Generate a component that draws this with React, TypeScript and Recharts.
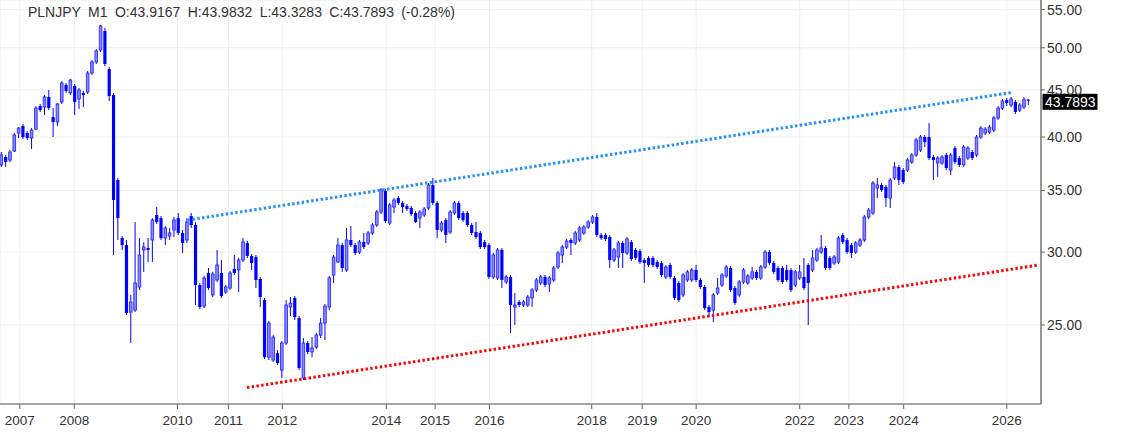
import React from 'react';
import { ComposedChart, Bar, XAxis, YAxis, CartesianGrid, ReferenceLine } from 'recharts';

const OPEN = [
37.30,38.05,37.76,38.62,40.40,41.12,40.40,39.90,40.80,43.22,
43.11,44.21,42.05,41.53,43.66,45.55,44.66,45.44,43.99,44.66,
44.77,46.94,48.25,49.72,52.14,47.41,44.43,35.92,31.07,30.53,
25.82,25.95,27.49,30.16,30.31,30.92,32.91,32.66,31.07,31.23,
31.70,32.66,31.47,30.92,32.83,32.10,27.63,26.21,28.47,26.95,
27.98,28.47,27.15,27.42,28.76,28.69,29.41,30.69,29.71,29.63,
28.05,26.61,23.07,22.90,23.30,22.34,23.90,26.15,26.75,25.44,
21.90,23.90,23.37,23.66,24.38,25.12,26.15,28.33,29.26,30.53,
28.69,30.92,30.53,30.00,30.76,30.69,31.47,32.10,33.16,34.95,
32.26,33.58,34.34,33.92,33.67,33.50,33.08,32.66,32.91,33.50,
35.48,33.92,31.70,32.50,31.54,33.08,33.92,33.08,33.08,32.10,
31.54,31.47,30.76,30.53,28.19,28.12,30.16,27.84,28.19,26.15,
26.48,26.28,26.28,26.75,27.29,27.77,28.19,27.70,27.98,28.90,
29.78,30.38,30.92,30.69,30.92,31.47,31.94,32.34,32.75,31.31,
31.31,31.15,29.41,29.63,30.69,29.93,30.76,30.16,30.08,29.41,
29.56,29.56,29.26,29.19,28.19,29.05,28.12,27.77,26.95,27.98,
27.98,28.69,27.98,27.49,26.15,25.95,27.08,27.63,28.26,28.83,
27.42,26.95,27.84,27.77,28.12,28.55,28.12,28.90,30.00,29.19,
28.83,28.83,28.69,28.69,27.63,28.12,28.19,29.05,28.69,29.41,
30.00,30.31,29.56,29.19,29.26,31.31,30.92,30.53,30.00,30.53,
30.92,32.75,33.08,35.21,35.48,35.30,34.34,36.10,37.11,36.83,
36.83,37.57,38.24,38.72,40.00,40.00,38.05,37.48,37.48,38.24,
36.83,38.91,37.95,37.30,37.95,38.53,38.24,40.00,40.40,40.50,
40.70,41.95,43.00,43.88,43.33,43.66,42.79,43.11,43.9167
];

const HIGH = [
38.53,38.24,38.72,40.40,41.01,41.32,40.60,40.90,43.22,43.44,
44.43,44.99,43.00,43.55,46.00,45.78,46.24,45.67,45.22,44.88,
47.17,48.49,49.85,52.93,52.53,47.65,44.66,36.10,31.23,30.92,
26.95,32.34,31.07,30.76,31.07,32.66,33.58,32.83,32.02,31.86,
32.75,33.08,31.70,32.66,33.08,32.34,27.77,28.26,28.83,28.55,
30.16,29.41,27.63,28.62,29.78,29.56,31.07,30.84,29.86,29.78,
28.19,26.75,25.25,24.38,23.48,24.02,26.61,26.81,26.88,25.57,
24.20,24.02,24.26,24.51,25.44,26.35,28.26,29.78,31.07,30.69,
31.86,32.02,30.69,30.92,31.47,31.62,32.26,33.33,35.21,35.13,
33.92,34.34,34.51,34.08,33.84,33.67,33.24,33.33,33.58,35.65,
36.10,34.08,32.42,32.66,33.33,34.08,34.08,33.24,33.24,32.26,
32.34,31.62,30.92,30.69,29.93,30.31,30.31,28.33,28.33,27.08,
26.61,26.61,26.95,27.42,28.12,28.33,28.33,28.26,28.98,30.08,
30.53,31.00,31.07,31.62,32.02,32.10,32.50,32.91,33.08,31.47,
31.47,31.31,30.31,30.84,30.84,31.15,30.92,30.31,30.23,29.56,
29.71,29.71,29.41,29.34,29.05,29.19,28.26,27.91,28.47,28.69,
28.83,29.05,28.12,27.63,26.28,27.08,28.12,28.47,29.05,28.98,
27.56,27.98,28.83,28.40,28.90,28.69,29.05,30.16,30.16,29.34,
28.98,28.98,29.05,28.83,28.69,29.05,29.56,29.19,30.16,30.31,
31.31,30.46,29.71,29.78,31.23,31.47,31.07,30.69,30.84,31.07,
32.91,33.50,35.83,36.10,35.65,35.48,36.10,37.57,37.30,37.02,
37.95,38.43,39.90,40.20,40.20,41.43,38.24,38.14,38.24,38.43,
38.43,39.11,38.14,39.21,39.11,38.72,40.20,41.12,41.01,41.22,
42.16,43.22,43.99,44.10,44.21,43.88,43.55,44.21,43.9832
];

const LOW = [
37.11,37.11,37.57,38.53,39.90,39.80,39.70,38.82,40.70,42.58,
42.26,42.79,40.00,41.12,43.44,44.66,44.43,42.26,42.90,43.11,
44.54,46.70,48.01,49.47,47.77,43.77,29.78,30.92,30.16,25.63,
23.90,25.82,27.29,28.55,29.26,29.26,32.18,30.92,30.53,30.92,
31.15,31.31,29.93,30.69,31.86,26.28,26.02,26.08,27.29,26.81,
27.84,26.75,27.02,27.29,28.33,27.15,29.26,29.56,28.69,27.42,
26.15,22.96,22.90,22.79,22.62,21.90,23.78,25.57,25.31,22.34,
21.79,23.25,23.07,23.54,24.20,24.08,25.95,27.77,29.19,28.55,
28.55,30.38,29.78,29.86,30.23,30.53,31.31,31.94,32.99,32.26,
32.10,33.08,33.75,33.08,33.24,32.83,32.26,31.86,32.75,33.33,
33.75,31.07,31.54,30.69,31.39,32.91,32.50,32.34,31.94,31.31,
31.00,30.23,30.23,28.05,28.05,27.98,27.42,27.70,24.51,25.00,
26.15,26.15,26.15,26.15,27.15,27.63,27.49,27.15,27.84,28.76,
29.19,30.23,29.78,30.53,30.76,31.31,31.78,32.18,31.15,30.92,
30.84,28.83,29.26,28.83,28.83,29.78,29.34,29.41,29.12,27.77,
28.90,28.90,28.76,28.19,28.05,28.05,26.61,26.48,26.81,27.84,
27.84,27.84,27.35,25.95,25.50,25.19,26.95,27.49,28.12,27.15,
26.28,26.81,27.70,27.63,27.98,27.98,27.98,28.76,29.05,28.40,
27.84,27.70,27.84,27.15,27.49,27.98,27.29,25.00,28.55,29.26,
29.86,28.69,28.69,29.05,29.12,30.61,29.86,29.56,29.86,30.38,
30.76,32.58,32.91,34.34,34.86,33.58,33.50,35.92,35.48,35.56,
36.65,37.39,38.05,38.53,39.01,37.76,35.92,36.20,37.30,36.83,
36.38,37.39,37.11,37.11,37.76,37.76,38.05,39.80,40.20,40.30,
40.50,41.74,42.79,43.22,43.11,42.37,42.58,42.90,43.3283
];

const CLOSE = [
38.24,37.57,38.53,40.20,40.90,40.00,39.90,40.70,43.00,42.79,
44.21,43.00,41.53,43.44,45.78,44.88,46.12,43.66,44.99,44.43,
46.94,48.25,49.60,52.80,48.01,44.32,34.17,32.66,30.53,25.76,
26.48,27.77,29.78,30.38,30.16,32.50,32.34,31.07,31.86,31.47,
32.50,31.47,30.69,32.34,32.10,27.63,26.15,28.12,27.42,28.40,
29.05,26.88,27.49,28.47,28.47,29.41,30.76,29.71,29.19,27.98,
26.81,23.07,25.12,24.26,22.73,23.90,26.28,26.41,25.50,22.45,
23.90,23.37,23.60,24.38,25.12,26.21,28.12,29.63,30.53,28.83,
30.92,30.53,29.93,30.76,30.38,31.47,32.10,33.16,35.04,32.42,
33.75,34.17,33.92,33.58,33.41,32.99,32.34,33.16,33.41,35.48,
33.92,31.70,32.26,31.31,33.16,33.92,32.66,32.50,32.10,31.47,
31.15,30.38,30.38,28.19,29.78,30.16,27.98,28.19,26.28,26.28,
26.28,26.48,26.81,27.29,27.98,28.19,27.63,28.12,28.83,29.93,
30.38,30.84,30.69,31.47,31.86,31.94,32.34,32.75,31.31,31.07,
31.00,29.41,30.16,30.69,29.93,31.00,29.48,29.56,29.26,29.19,
29.05,29.05,28.90,28.33,28.90,28.19,26.75,26.61,28.33,28.55,
28.69,27.98,27.49,26.08,25.82,26.95,27.42,28.33,28.90,27.29,
26.41,27.84,28.69,28.26,28.55,28.12,28.90,30.00,29.19,28.55,
27.98,27.84,27.98,27.29,28.55,28.55,27.42,27.77,29.56,30.16,
30.31,28.83,28.83,29.63,31.07,30.76,30.00,29.93,30.69,30.92,
32.75,33.33,35.65,35.48,35.04,34.34,35.92,37.11,35.92,35.74,
37.76,38.24,39.70,40.00,39.50,37.95,37.76,37.95,38.05,37.02,
38.24,37.57,37.30,39.01,38.91,37.95,40.00,40.90,40.80,41.01,
41.95,43.00,43.77,43.55,43.99,42.58,43.33,43.91,43.7893
];

// x-axis year ticks (positions in bar-index units) and their labels
const YEAR_TICK_POS = [4.36, 16.99, 40.9, 52.7, 65.2, 89.3, 100.6, 113.2, 136.9, 148.6, 161.1, 185.1, 196.5, 209.2, 233.1];
const YEAR_TICK_LABELS = ['2007', '2008', '2010', '2011', '2012', '2014', '2015', '2016', '2018', '2019', '2020', '2022', '2023', '2024', '2026'];
const PRICE_TICKS = [25, 30, 35, 40, 45, 50, 55];
const PRICE_DOMAIN = [20.52, 56.34];
const INDEX_DOMAIN = [-0.232, 241.02];

// trend lines (bar index, price)
const RESISTANCE = [{ x: 43.3, y: 32.5 }, { x: 234.5, y: 44.73 }];
const SUPPORT = [{ x: 57.0, y: 21.38 }, { x: 240.6, y: 29.05 }];

const TITLE_SYMBOL = 'PLNJPY';
const TITLE_TF = 'M1';
const TITLE_CHANGE = '(-0.28%)';

const data = OPEN.map((o, i) => ({
  i,
  o,
  h: HIGH[i],
  l: LOW[i],
  c: CLOSE[i],
  range: [LOW[i], HIGH[i]],
}));

const last = data.length - 1;
const FONT = '"Liberation Sans", Arial, sans-serif';

const Candle = (props: any) => {
  const { x, y, width, height, payload } = props;
  if (x == null || y == null || payload == null) return null;
  const top = Math.min(y, y + height);
  const h = Math.abs(height);
  const cx = x + width / 2;
  const lh = Math.log(payload.h);
  const ll = Math.log(payload.l);
  const pos = (v: number) => (lh === ll ? top : top + (h * (lh - Math.log(v))) / (lh - ll));
  const yo = pos(payload.o);
  const yc = pos(payload.c);
  const bull = payload.c >= payload.o;
  const bt = Math.min(yo, yc);
  const bh = Math.max(1, Math.abs(yo - yc));
  return (
    <g>
      <line x1={cx} x2={cx} y1={top} y2={top + h} stroke="#0000ff" strokeWidth={1} />
      {bull ? (
        <rect x={cx - 1.3} y={bt} width={2.6} height={bh} fill="#8c8cff" stroke="#2b2bff" strokeWidth={0.9} />
      ) : (
        <rect x={cx - 1.6} y={bt} width={3.2} height={bh} fill="#0000ff" />
      )}
    </g>
  );
};

const PriceBadge = (props: any) => {
  const vb = props.viewBox;
  if (!vb) return null;
  const x0 = vb.x + vb.width;
  const yc = vb.y;
  return (
    <g>
      <rect x={x0 + 1.5} y={yc - 7} width={55} height={16} fill="#000" />
      <text x={x0 + 4} y={yc + 1.5} fill="#fff" fontSize={14} fontFamily={FONT} dominantBaseline="central">
        {CLOSE[last].toFixed(4)}
      </text>
    </g>
  );
};

export default function App() {
  const title = `${TITLE_SYMBOL} ${TITLE_TF} O:${OPEN[last].toFixed(4)} H:${HIGH[last].toFixed(4)} L:${LOW[last].toFixed(4)} C:${CLOSE[last].toFixed(4)} ${TITLE_CHANGE}`;
  return (
    <div style={{ position: 'absolute', left: 0, top: 0, width: 1126, height: 434, background: '#fff' }}>
      <ComposedChart
        width={1126}
        height={434}
        data={data}
        margin={{ top: 0, right: 5, bottom: 0, left: 0 }}
      >
        <CartesianGrid stroke="#eeeeee" strokeWidth={1} />
        <XAxis
          dataKey="i"
          type="number"
          domain={INDEX_DOMAIN}
          allowDataOverflow
          ticks={YEAR_TICK_POS}
          interval={0}
          tickFormatter={(v: number) => YEAR_TICK_LABELS[YEAR_TICK_POS.indexOf(v)] ?? ''}
          height={30}
          tickSize={5}
          tickMargin={6}
          axisLine={{ stroke: '#8a8a8a', strokeWidth: 1.5 }}
          tickLine={{ stroke: '#666' }}
          tick={{ fontSize: 13.5, fill: '#333', fontFamily: FONT }}
        />
        <YAxis
          orientation="right"
          type="number"
          scale="log"
          domain={PRICE_DOMAIN}
          allowDataOverflow
          ticks={PRICE_TICKS}
          interval={0}
          tickFormatter={(v: number) => v.toFixed(2)}
          width={80}
          tickSize={4}
          tickMargin={2}
          axisLine={{ stroke: '#777', strokeWidth: 1.5 }}
          tickLine={{ stroke: '#666' }}
          tick={{ fontSize: 14, fill: '#333', fontFamily: FONT, textAnchor: 'start' }}
        />
        <Bar dataKey="range" barSize={3} shape={<Candle />} isAnimationActive={false} />
        <ReferenceLine
          segment={RESISTANCE}
          stroke="#1e8fff"
          strokeWidth={3}
          strokeDasharray="2.4 2.4"
        />
        <ReferenceLine
          segment={SUPPORT}
          stroke="#ff0000"
          strokeWidth={3}
          strokeDasharray="2.4 2.4"
        />
        <ReferenceLine y={CLOSE[last]} stroke="none" label={(p: any) => <PriceBadge {...p} />} />
      </ComposedChart>
      <div
        style={{
          position: 'absolute',
          left: 28,
          top: 4,
          fontFamily: FONT,
          fontSize: 14,
          color: '#333',
          whiteSpace: 'pre',
          wordSpacing: '3.5px',
        }}
      >
        {title}
      </div>
    </div>
  );
}
